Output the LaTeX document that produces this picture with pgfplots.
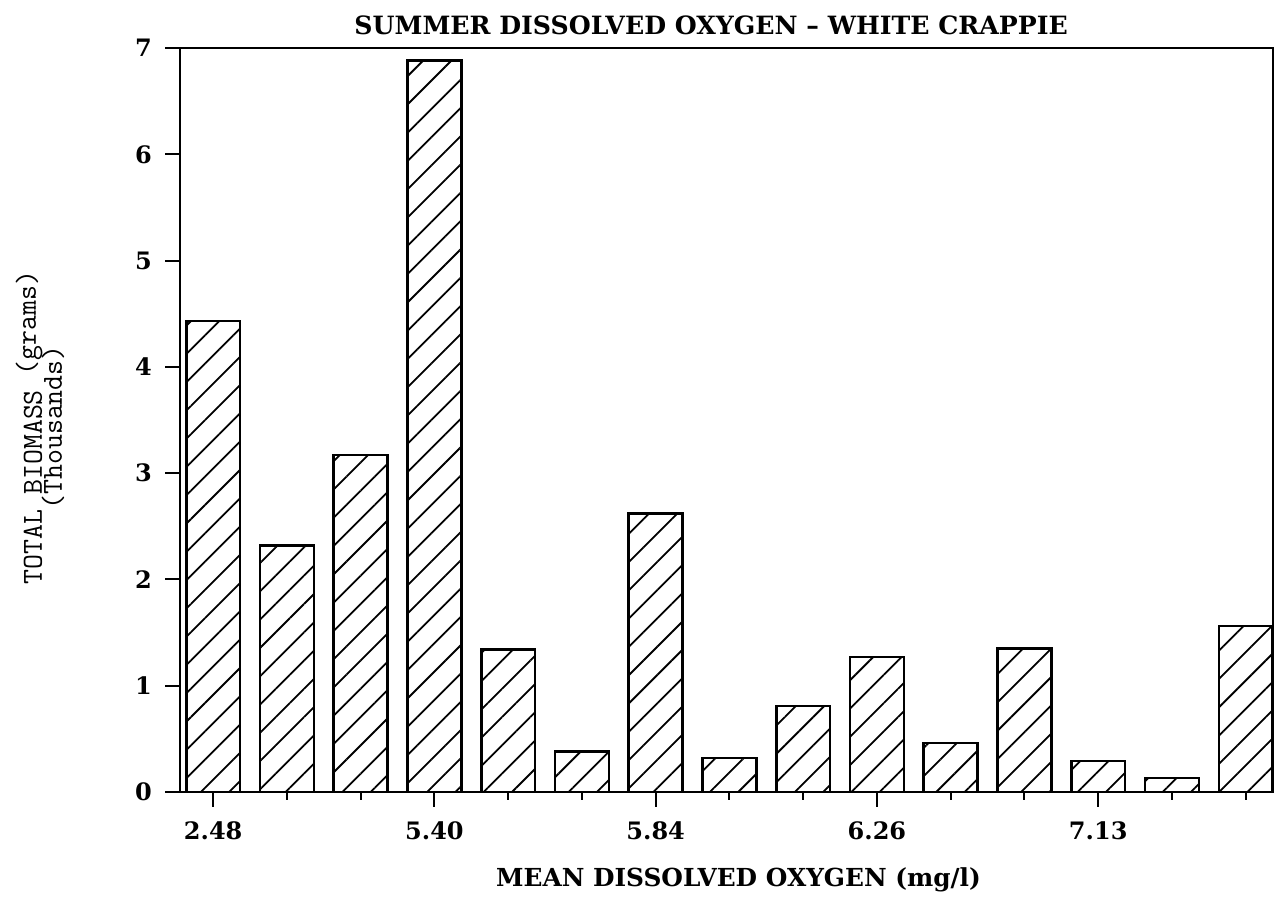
\documentclass[border=0pt]{standalone}
\usepackage{pgfplots}
\pgfplotsset{compat=1.18}
\usetikzlibrary{patterns.meta}
\usepackage{fontspec}
\setmainfont{DejaVu Serif}
\begin{document}
\begin{tikzpicture}
\useasboundingbox (-90pt,-58pt) rectangle (551.5pt,396pt);
\begin{axis}[
  scale only axis, width=546.5pt, height=372pt,
  xmin=-0.45, xmax=14.37, ymin=0, ymax=7,
  ybar, bar width=0.73,
  axis line style={line width=1.3pt},
  xtick={0,3,6,9,12}, xticklabels={2.48,5.40,5.84,6.26,7.13},
  minor xtick={0,...,14},
  ytick={0,1,2,3,4,5,6,7},
  tick align=outside, xtick pos=bottom, ytick pos=left,
  major tick length=7.5pt, minor tick length=4pt,
  tick style={line width=1pt, black},
  /pgf/number format/assume math mode=true,
  ticklabel style={font=\bfseries\fontsize{12}{14}\selectfont},
  yticklabel style={xshift=-3pt},
  xticklabel style={yshift=-4pt},
  every axis title shift=0pt,
  title={SUMMER DISSOLVED OXYGEN -- WHITE CRAPPIE},
  title style={font=\bfseries\fontsize{12.6}{14}\selectfont, at={(axis description cs:0.486,1)}, anchor=center, yshift=11.5pt},
  xlabel={MEAN DISSOLVED OXYGEN (mg/l)},
  xlabel style={font=\bfseries\fontsize{12.4}{14}\selectfont, at={(axis description cs:0.511,0)}, anchor=center, yshift=-44pt},
  ylabel={\ttfamily\fontsize{14.5}{13}\selectfont TOTAL BIOMASS \raisebox{3pt}{(grams)}\\[-2pt]\ttfamily\fontsize{14.5}{13}\selectfont(Thousands)},
  ylabel style={align=center, at={(axis description cs:-0.128,0.49)}, anchor=center},
]
\addplot[draw=black, line width=1.3pt, pattern={Lines[angle=45,distance=10pt,line width=0.9pt]}]
coordinates {
(0,4.43) (1,2.32) (2,3.17) (3,6.88) (4,1.34) (5,0.38) (6,2.62) (7,0.32)
(8,0.81) (9,1.27) (10,0.46) (11,1.35) (12,0.29) (13,0.13) (14,1.56)
};
\end{axis}
\end{tikzpicture}
\end{document}
